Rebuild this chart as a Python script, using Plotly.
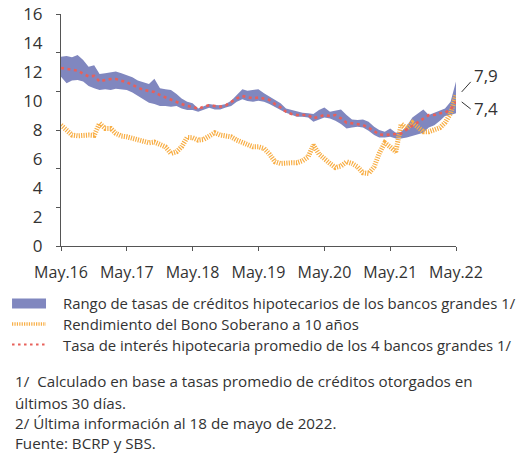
import plotly.graph_objects as go
import pandas as pd

months = pd.date_range("2016-05-01", periods=73, freq="MS")

band_upper = [13.06, 13.11, 13.02, 13.18, 12.83, 12.37, 12.47, 11.87, 11.91, 11.98, 12.03, 11.91,
              11.77, 11.64, 11.41, 11.27, 11.18, 11.54, 10.88, 10.81, 10.76, 10.48, 10.18, 9.95,
              9.84, 9.49, 9.65, 9.79, 9.72, 9.70, 9.79, 10.02, 10.41, 10.81, 10.71, 10.76,
              10.81, 10.53, 10.30, 10.12, 9.84, 9.49, 9.38, 9.26, 9.19, 9.15, 9.10, 9.38,
              9.56, 9.26, 9.33, 9.42, 9.03, 8.73, 8.69, 8.73, 8.57, 8.23, 8.00, 7.88,
              8.11, 7.81, 7.88, 8.27, 8.87, 9.15, 9.42, 9.03, 9.19, 9.38, 9.49, 9.95, 11.34]

band_lower = [11.68, 11.22, 11.41, 11.45, 11.34, 11.04, 10.88, 10.76, 10.81, 10.76, 10.85, 10.81,
              10.76, 10.58, 10.35, 10.12, 9.88, 9.79, 9.65, 9.65, 9.61, 9.65, 9.49, 9.38,
              9.38, 9.26, 9.42, 9.54, 9.42, 9.42, 9.56, 9.65, 9.95, 10.12, 10.00, 9.95,
              10.02, 9.95, 9.79, 9.61, 9.38, 9.19, 9.03, 8.92, 8.92, 8.87, 8.57, 8.73,
              8.87, 8.80, 8.64, 8.41, 8.11, 8.18, 8.23, 8.18, 7.95, 7.65, 7.49, 7.49,
              7.53, 7.42, 7.42, 7.49, 7.58, 7.72, 7.81, 8.18, 8.32, 8.64, 8.96, 9.03, 9.15]

avg_rate = [12.28, 12.21, 12.14, 12.10, 11.87, 11.70, 11.73, 11.34, 11.45, 11.52, 11.52, 11.41,
            11.29, 11.11, 10.94, 10.76, 10.69, 10.62, 10.41, 10.25, 10.07, 9.95, 9.79, 9.65,
            9.61, 9.45, 9.61, 9.70, 9.65, 9.61, 9.70, 9.93, 10.18, 10.35, 10.25, 10.18,
            10.25, 10.18, 10.07, 9.79, 9.56, 9.26, 9.10, 9.03, 9.03, 9.03, 8.80, 8.92,
            9.03, 8.96, 9.03, 8.80, 8.50, 8.46, 8.41, 8.34, 8.16, 7.93, 7.70, 7.65,
            7.67, 7.70, 7.76, 8.04, 8.29, 8.57, 8.80, 9.03, 9.03, 9.15, 9.19, 9.42, 9.95]

bond_10y = [8.34, 7.95, 7.65, 7.60, 7.67, 7.65, 7.63, 8.46, 8.11, 8.11, 7.76, 7.58,
            7.53, 7.42, 7.35, 7.19, 7.12, 7.17, 7.03, 6.84, 6.38, 6.50, 6.84, 7.49,
            7.47, 7.30, 7.35, 7.58, 7.81, 7.65, 7.58, 7.53, 7.30, 7.12, 6.96, 6.84,
            6.84, 6.73, 6.34, 5.81, 5.69, 5.74, 5.74, 5.74, 5.88, 6.15, 6.96, 6.34,
            5.97, 5.69, 5.41, 5.51, 5.81, 5.69, 5.46, 5.05, 5.00, 5.46, 6.38, 7.12,
            6.84, 6.50, 8.41, 8.11, 8.50, 8.18, 7.88, 7.88, 8.00, 8.16, 8.50, 9.15, 10.41]

tick_dates = ["2016-05-01", "2017-05-01", "2018-05-01", "2019-05-01", "2020-05-01", "2021-05-01", "2022-05-01"]
tick_labels = ["May.16", "May.17", "May.18", "May.19", "May.20", "May.21", "May.22"]
y_labels = [0, 2, 4, 6, 8, 10, 12, 14, 16]

legend_labels = ["Rango de tasas de créditos hipotecarios de los bancos grandes 1/",
                 "Rendimiento del Bono Soberano a 10 años",
                 "Tasa de interés hipotecaria promedio de los 4 bancos grandes 1/"]
end_labels = ["7,9", "7,4"]
notes = ["1/  Calculado en base a tasas promedio de créditos otorgados en",
         "últimos 30 días.",
         "2/ Última información al 18 de mayo de 2022.",
         "Fuente: BCRP y SBS."]

BAND = "#8087BF"
RED = "#E8605A"
ORANGE = "#F8AE45"
TXT = "#333333"
FONT = "Open Sans"

W, H = 524, 457
# plot area edges in window pixels
L, R, T, B = 61, 456.3, 14.3, 245.7

def px(x):
    return (x - L) / (R - L)

def py(y):
    return (B - y) / (B - T)

fig = go.Figure()
fig.add_trace(go.Scatter(x=months, y=band_lower, mode="lines", line=dict(width=0, color=BAND),
                         showlegend=False, hoverinfo="skip"))
fig.add_trace(go.Scatter(x=months, y=band_upper, mode="lines", line=dict(width=0, color=BAND),
                         fill="tonexty", fillcolor=BAND, name=legend_labels[0], showlegend=False))
fig.add_trace(go.Scatter(x=months, y=bond_10y, mode="lines",
                         line=dict(width=5, color=ORANGE, dash="1.2px,1.2px"),
                         name=legend_labels[1], showlegend=False))
fig.add_trace(go.Scatter(x=months, y=avg_rate, mode="lines",
                         line=dict(width=2.6, color=RED, dash="3px,3.5px"),
                         name=legend_labels[2], showlegend=False))

shapes = []
annotations = []

# legend swatches
shapes.append(dict(type="rect", xref="paper", yref="paper", x0=px(12), x1=px(46), y0=py(298), y1=py(308),
                   fillcolor=BAND, line=dict(width=0)))
shapes.append(dict(type="line", xref="paper", yref="paper", x0=px(12), x1=px(46), y0=py(323.5), y1=py(323.5),
                   line=dict(color=ORANGE, width=3.5, dash="1.2px,1.2px")))
shapes.append(dict(type="line", xref="paper", yref="paper", x0=px(12), x1=px(46), y0=py(344), y1=py(344),
                   line=dict(color=RED, width=2, dash="2.5px,3.5px")))
for lbl, yy in zip(legend_labels, [303, 323.5, 344]):
    annotations.append(dict(text=lbl, xref="paper", yref="paper", x=px(61), y=py(yy),
                            xanchor="left", yanchor="middle", showarrow=False,
                            font=dict(family=FONT, size=14.9, color=TXT)))

# end labels with leader lines
shapes.append(dict(type="line", xref="paper", yref="paper", x0=px(462), x1=px(471), y0=py(92), y1=py(82),
                   line=dict(color=TXT, width=1)))
shapes.append(dict(type="line", xref="paper", yref="paper", x0=px(462), x1=px(471), y0=py(102), y1=py(109),
                   line=dict(color=TXT, width=1)))
for lbl, yy in zip(end_labels, [76, 109]):
    annotations.append(dict(text=lbl, xref="paper", yref="paper", x=px(472), y=py(yy),
                            xanchor="left", yanchor="middle", showarrow=False,
                            font=dict(family=FONT, size=17, color=TXT)))

# footnotes
for note, yy in zip(notes, [380, 402, 422, 442]):
    annotations.append(dict(text=note, xref="paper", yref="paper", x=px(13), y=py(yy),
                            xanchor="left", yanchor="middle", showarrow=False,
                            font=dict(family=FONT, size=15.2, color=TXT)))

fig.update_layout(
    width=W, height=H,
    margin=dict(l=L, r=W - R, t=T, b=H - B, pad=0, autoexpand=False),
    paper_bgcolor="white", plot_bgcolor="white",
    showlegend=False,
    shapes=shapes, annotations=annotations,
    font=dict(family=FONT, color=TXT),
)
fig.update_xaxes(
    range=["2016-05-01", "2022-05-01"], tickvals=tick_dates, ticktext=tick_labels,
    showline=True, linecolor="#555555", linewidth=1, ticks="outside", ticklen=4, tickcolor="#555555",
    showgrid=False, zeroline=False, tickfont=dict(family=FONT, size=16, color=TXT),
    ticklabelstandoff=8, automargin=False, ticklabeloverflow="allow",
)
fig.update_yaxes(
    range=[0, 16], tickvals=y_labels, ticks="", showline=True, linecolor="#555555", linewidth=1,
    showgrid=False, zeroline=False, tickfont=dict(family=FONT, size=17, color=TXT),
    ticklabelstandoff=14, automargin=False, ticklabeloverflow="allow",
    minor=dict(tickvals=[0, 16 / 6, 32 / 6, 8, 64 / 6, 80 / 6, 16], ticks="outside", ticklen=4,
               tickcolor="#555555"),
)

# remove the browser's default 8px page margin so the figure fills the window exactly
fig.write_html("out.html", config={"displayModeBar": False},
               post_script="document.body.style.margin='0';")
